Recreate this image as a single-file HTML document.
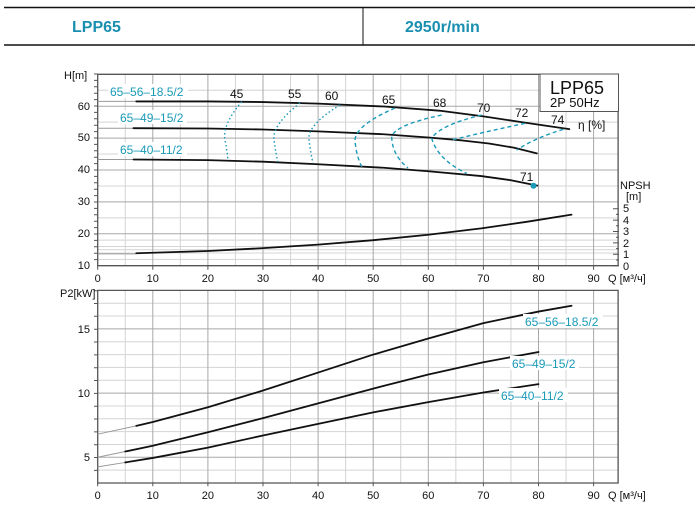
<!DOCTYPE html>
<html><head><meta charset="utf-8"><style>
html,body{margin:0;padding:0;background:#fff;}
svg{display:block;font-family:"Liberation Sans",Arial,sans-serif;}
</style></head><body>
<svg width="700" height="511" viewBox="0 0 700 511" xmlns="http://www.w3.org/2000/svg">
<rect width="700" height="511" fill="#fff"/>
<line x1="4" y1="7.5" x2="695" y2="7.5" stroke="#111" stroke-width="1.5"/>
<line x1="4" y1="45" x2="695" y2="45" stroke="#111" stroke-width="1.5"/>
<line x1="363" y1="7" x2="363" y2="45" stroke="#111" stroke-width="1"/>
<text x="72" y="32" font-size="16" font-weight="bold" fill="#1a8fb0">LPP65</text>
<text x="405" y="32" font-size="16" font-weight="bold" fill="#1a8fb0">2950r/min</text>

<g transform="translate(97.7,297.6) scale(5.51,-3.19)" fill="none">
  <g stroke="#d4d4d4" stroke-width="1">
    <path vector-effect="non-scaling-stroke" d="M5,10V70M15,10V70M25,10V70M35,10V70M45,10V70M55,10V70M65,10V70M75,10V70M85,10V70"/>
    <path vector-effect="non-scaling-stroke" d="M0,15H94.45M0,25H94.45M0,35H94.45M0,45H94.45M0,55H94.45M0,65H94.45M0,12H94.45M0,14H94.45M0,16H94.45M0,18H94.45"/>
  </g>
  <g stroke="#a8a8a8" stroke-width="1">
    <path vector-effect="non-scaling-stroke" d="M10,10V70M20,10V70M30,10V70M40,10V70M50,10V70M60,10V70M70,10V70M80,10V70M90,10V70"/>
    <path vector-effect="non-scaling-stroke" d="M0,20H94.45M0,30H94.45M0,40H94.45M0,50H94.45M0,60H94.45"/>
  </g>
  <rect x="0" y="10" width="94.45" height="60" stroke="#555" stroke-width="1.3" vector-effect="non-scaling-stroke"/>
  <g stroke="#999" stroke-width="1">
    <path vector-effect="non-scaling-stroke" d="M0,61.5H7M0,53.1H6.5M0,43.3H6.5M0,13.7H7"/>
  </g>
  <g stroke="#111" stroke-width="1.8" stroke-linejoin="round" stroke-linecap="round">
    <polyline vector-effect="non-scaling-stroke" points="7,61.5 20,61.5 30,61.3 40,60.8 52,59.9 62,58.6 70,56.8 76.6,55.1 85.6,52.8"/>
    <polyline vector-effect="non-scaling-stroke" points="6.5,53.1 20,53 30,52.7 40,52.1 51.9,51.2 60,50.2 66,49.3 71,48.3 75.5,47 79.7,45.2"/>
    <polyline vector-effect="non-scaling-stroke" points="6.5,43.3 20,43.1 30,42.6 40,41.8 51.9,40.7 60,39.6 69.6,38.1 75,36.8 79.8,35.1"/>
    <polyline vector-effect="non-scaling-stroke" points="7,13.9 20,14.6 30,15.5 40,16.6 50,18 60,19.7 69.6,21.7 78,23.8 86,26"/>
  </g>
</g>
<g stroke="#555" stroke-width="1">
  <path d="M97.7,265.7v4M152.8,265.7v4M207.9,265.7v4M263,265.7v4M318.1,265.7v4M373.2,265.7v4M428.3,265.7v4M483.4,265.7v4M538.5,265.7v4M593.6,265.7v4"/>
  <path d="M94,74H98M94,80.4H98M94,86.8H98M94,93.2H98M94,99.6H98M94,106H98M94,112.4H98M94,118.8H98M94,125.2H98M94,131.6H98M94,138H98M94,144.4H98M94,150.8H98M94,157.2H98M94,163.6H98M94,170H98M94,176.4H98M94,182.8H98M94,189.2H98M94,195.6H98M94,202H98M94,208.4H98M94,214.8H98M94,221.2H98M94,227.6H98M94,234H98M94,240.4H98M94,246.8H98M94,253.2H98M94,259.6H98"/>
  <path d="M613,265.7H619M616,260H619M613,254.3H619M616,248.6H619M613,242.9H619M616,237.2H619M613,231.5H619M616,225.8H619M613,220.1H619M616,214.4H619M613,208.7H619"/>
</g>
<g fill="none" stroke="#1a9ab8" stroke-width="1.4">
  <g stroke-dasharray="1.5,2.5">
    <path d="M241.7,101.7 Q222,125 225,140 T227.7,160"/>
    <path d="M300,103 Q272,125 274,140 T278,162"/>
    <path d="M340,105 Q307,125 309,140 T313,163"/>
  </g>
  <g stroke-dasharray="4,3">
    <path d="M395,108 Q356,125 355,140 Q356,155 361.7,166.7"/>
    <path d="M441.7,115 Q395,125 391.7,136.7 Q392,155 408,168"/>
    <path d="M481.7,115 Q440,125 431.7,138.3 Q438,160 466.7,173.3"/>
    <path d="M525,123.3 Q480,133 451.7,140"/>
    <path d="M563.3,129.3 Q535,138 516.7,150"/>
  </g>
</g>
<circle cx="533.5" cy="185.7" r="3" fill="#1a9ab8"/>
<g font-size="12" fill="#111">
  <text x="230" y="98">45</text>
  <text x="288" y="98">55</text>
  <text x="325" y="100">60</text>
  <text x="382" y="104">65</text>
  <text x="433" y="107">68</text>
  <text x="477" y="112">70</text>
  <text x="515" y="117">72</text>
  <text x="551" y="124">74</text>
  <text x="520" y="181">71</text>
  <text x="578" y="129">η [%]</text>
</g>
<g font-size="12" fill="#1a9ab8">
  <rect x="108" y="84" width="80" height="14" fill="#fff"/>
  <text x="110" y="96">65–56–18.5/2</text>
  <rect x="118" y="110" width="69" height="14" fill="#fff"/>
  <text x="120" y="122">65–49–15/2</text>
  <rect x="118" y="142" width="69" height="14" fill="#fff"/>
  <text x="120" y="154">65–40–11/2</text>
</g>
<rect x="540" y="74" width="78.5" height="37.5" fill="#fff" stroke="#555" stroke-width="1"/>
<text x="550" y="94" font-size="18" fill="#111">LPP65</text>
<text x="550" y="107" font-size="13" fill="#111">2P  50Hz</text>
<g font-size="11" fill="#111">
  <text x="64" y="79">H[m]</text>
  <g text-anchor="end">
    <text x="90" y="110">60</text><text x="90" y="141">50</text><text x="90" y="173">40</text>
    <text x="90" y="205">30</text><text x="90" y="237">20</text><text x="90" y="269">10</text>
  </g>
  <g text-anchor="middle">
    <text x="97.7" y="282">0</text><text x="152.8" y="282">10</text><text x="207.9" y="282">20</text>
    <text x="263" y="282">30</text><text x="318.1" y="282">40</text><text x="373.2" y="282">50</text>
    <text x="428.3" y="282">60</text><text x="483.4" y="282">70</text><text x="538.5" y="282">80</text>
    <text x="593.6" y="282">90</text>
  </g>
  <text x="608" y="282">Q [м³/ч]</text>
  <text x="620" y="189">NPSH</text>
  <text x="626" y="200">[m]</text>
  <text x="623" y="270">0</text><text x="623" y="258">1</text><text x="623" y="247">2</text>
  <text x="623" y="235">3</text><text x="623" y="224">4</text><text x="623" y="212">5</text>
</g>

<g transform="translate(97.7,521.5) scale(5.51,-12.84)" fill="none">
  <g stroke="#d4d4d4" stroke-width="1">
    <path vector-effect="non-scaling-stroke" d="M5,3V18M15,3V18M25,3V18M35,3V18M45,3V18M55,3V18M65,3V18M75,3V18M85,3V18"/>
    <path vector-effect="non-scaling-stroke" d="M0,4H94.45M0,6H94.45M0,7H94.45M0,8H94.45M0,9H94.45M0,11H94.45M0,12H94.45M0,13H94.45M0,14H94.45M0,16H94.45M0,17H94.45"/>
  </g>
  <g stroke="#a8a8a8" stroke-width="1">
    <path vector-effect="non-scaling-stroke" d="M10,3V18M20,3V18M30,3V18M40,3V18M50,3V18M60,3V18M70,3V18M80,3V18M90,3V18"/>
    <path vector-effect="non-scaling-stroke" d="M0,5H94.45M0,10H94.45M0,15H94.45"/>
  </g>
  <rect x="0" y="3" width="94.45" height="15" stroke="#555" stroke-width="1.3" vector-effect="non-scaling-stroke"/>
  <g stroke="#999" stroke-width="1">
    <path vector-effect="non-scaling-stroke" d="M0,6.8L7,7.45M0,5L5,5.45M0,4.25L5,4.6"/>
  </g>
  <g stroke="#111" stroke-width="1.8" stroke-linejoin="round" stroke-linecap="round">
    <polyline vector-effect="non-scaling-stroke" points="7,7.45 10,7.75 20,8.9 30,10.2 40,11.6 50,13 60,14.25 70,15.45 80,16.35 86,16.8"/>
    <polyline vector-effect="non-scaling-stroke" points="5,5.45 10,5.9 20,6.95 30,8.05 40,9.2 50,10.35 60,11.45 70,12.4 80,13.2"/>
    <polyline vector-effect="non-scaling-stroke" points="5,4.6 10,4.95 20,5.75 30,6.7 40,7.6 50,8.5 60,9.3 70,10.05 80,10.7"/>
  </g>
</g>
<g stroke="#555" stroke-width="1">
  <path d="M97.7,482.3v4M152.8,482.3v4M207.9,482.3v4M263,482.3v4M318.1,482.3v4M373.2,482.3v4M428.3,482.3v4M483.4,482.3v4M538.5,482.3v4M593.6,482.3v4"/>
  <path d="M94,290.7H98M94,303.5H98M94,316.3H98M94,329.2H98M94,342H98M94,354.9H98M94,367.7H98M94,380.5H98M94,393.4H98M94,406.2H98M94,419H98M94,431.9H98M94,444.7H98M94,457.5H98M94,470.4H98"/>
</g>
<g font-size="12" fill="#1a9ab8">
  <rect x="523" y="314" width="80" height="14" fill="#fff"/>
  <text x="525" y="326">65–56–18.5/2</text>
  <rect x="510" y="356" width="69" height="14" fill="#fff"/>
  <text x="512" y="368">65–49–15/2</text>
  <rect x="499" y="388" width="69" height="14" fill="#fff"/>
  <text x="501" y="400">65–40–11/2</text>
</g>
<g font-size="11" fill="#111">
  <text x="60" y="297">P2[kW]</text>
  <g text-anchor="end">
    <text x="90" y="333">15</text><text x="90" y="397">10</text><text x="90" y="461">5</text>
  </g>
  <g text-anchor="middle">
    <text x="97.7" y="499">0</text><text x="152.8" y="499">10</text><text x="207.9" y="499">20</text>
    <text x="263" y="499">30</text><text x="318.1" y="499">40</text><text x="373.2" y="499">50</text>
    <text x="428.3" y="499">60</text><text x="483.4" y="499">70</text><text x="538.5" y="499">80</text>
    <text x="593.6" y="499">90</text>
  </g>
  <text x="608" y="499">Q [м³/ч]</text>
</g>
</svg>
</body></html>
